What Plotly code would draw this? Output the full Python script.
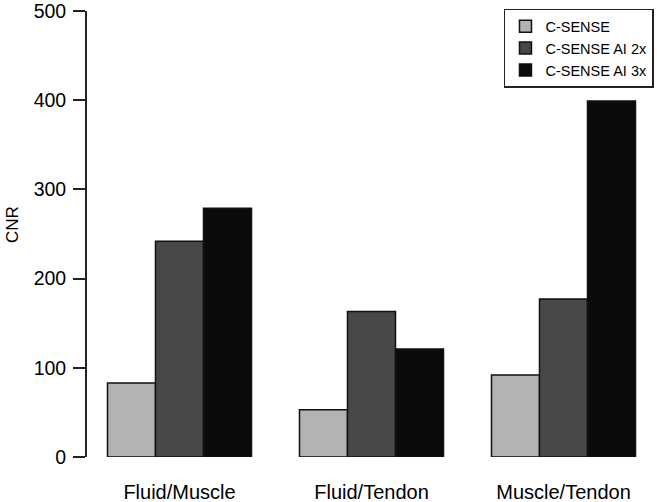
import plotly.graph_objects as go

categories = ["Fluid/Muscle", "Fluid/Tendon", "Muscle/Tendon"]
series_names = ["C-SENSE", "C-SENSE AI 2x", "C-SENSE AI 3x"]
c_sense = [83, 53, 92]
c_sense_ai2 = [242, 163, 177]
c_sense_ai3 = [279, 121, 399]
y_ticks = [0, 100, 200, 300, 400, 500]

colors = ["#b3b3b3", "#484848", "#0b0b0b"]
values = [c_sense, c_sense_ai2, c_sense_ai3]

FONT = "Liberation Sans, Arial, sans-serif"

fig = go.Figure()
for name, vals, col in zip(series_names, values, colors):
    fig.add_trace(go.Bar(
        x=categories, y=vals, name=name,
        marker=dict(color=col, line=dict(color="#111111", width=1.5)),
    ))

fig.update_layout(
    width=657, height=502,
    margin=dict(l=87, r=0, t=11, b=45, autoexpand=False),
    paper_bgcolor="white", plot_bgcolor="white",
    barmode="group", bargap=0.25, bargroupgap=0,
    font=dict(family=FONT, color="#000000"),
    showlegend=True,
    legend=dict(
        x=0.9947, xanchor="right", y=1.005, yanchor="top",
        bordercolor="#222222", borderwidth=1.5,
        bgcolor="white",
        font=dict(size=14.5, family=FONT, color="#000000"),
        tracegroupgap=0,
    ),
    xaxis=dict(
        range=[-0.4818, 2.487],
        showline=False, showgrid=False, zeroline=False,
        ticks="", tickfont=dict(size=20, family=FONT, color="#000000"),
        ticklabelstandoff=21,
        automargin=False,
    ),
    yaxis=dict(
        range=[0, 500], tickvals=y_ticks,
        showline=True, linecolor="#222222", linewidth=1.8,
        showgrid=False, zeroline=False,
        ticks="outside", ticklen=12, tickwidth=1.8, tickcolor="#222222",
        tickfont=dict(size=19.5, family=FONT, color="#000000"),
        ticklabelstandoff=3,
        ticklabeloverflow="allow",
        automargin=False,
    ),
    annotations=[dict(
        text="CNR", xref="paper", yref="paper",
        x=(12 - 87) / 570, y=0.52, xanchor="center", yanchor="middle",
        textangle=-90, showarrow=False,
        font=dict(size=17, family=FONT, color="#000000"),
    )],
)

fig.write_html(
    "out.html",
    config={"displayModeBar": False},
    post_script="document.body.style.margin='0';document.body.style.overflow='hidden';",
)
